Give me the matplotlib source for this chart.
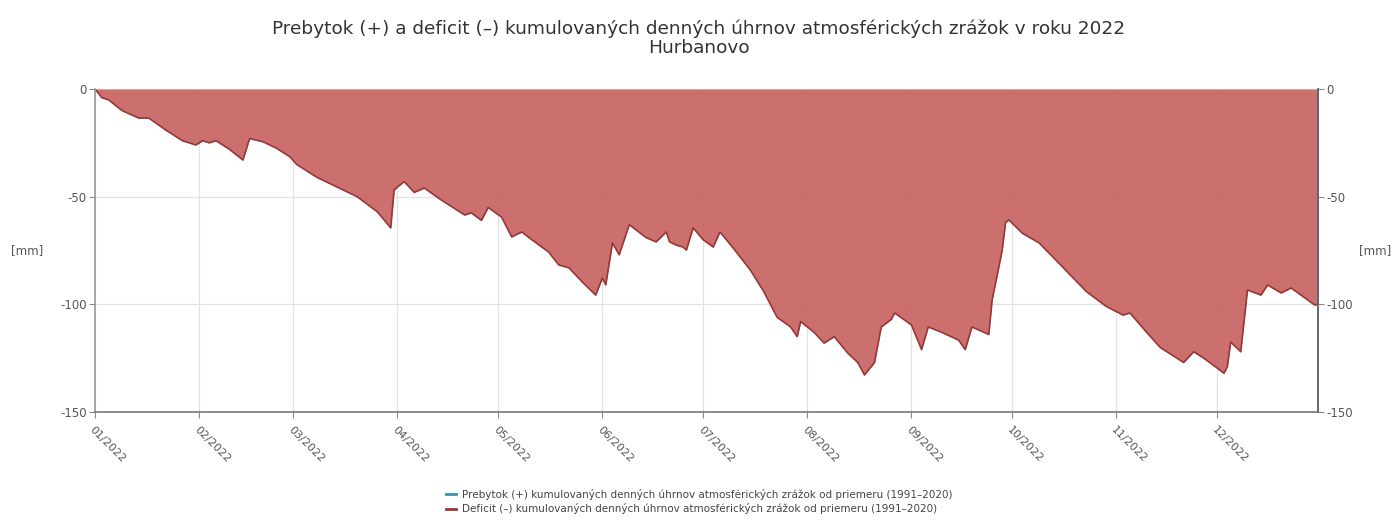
import numpy as np
import pandas as pd
import matplotlib
matplotlib.use("Agg")
import matplotlib.pyplot as plt
import matplotlib.dates as mdates

# =========================
# Data
# =========================
day_of_year = [
    1, 3, 5, 9, 14, 17, 22, 27, 31, 33, 35, 37, 41, 45, 47, 51, 55, 59, 61,
    67, 73, 79, 85, 89, 90, 91, 93, 96, 99, 104, 111, 113, 116, 118, 122,
    125, 128, 131, 136, 139, 142, 146, 150, 152, 153, 155, 157, 160, 165,
    168, 171, 172, 174, 176, 177, 179, 182, 185, 187, 191, 196, 200, 204,
    208, 210, 211, 215, 218, 221, 225, 228, 230, 233, 235, 238, 239, 244,
    247, 249, 253, 258, 260, 262, 267, 268, 270, 271, 272, 273, 277, 282,
    289, 296, 302, 307, 309, 314, 318, 323, 325, 328, 331, 335, 337, 338,
    339, 342, 344, 348, 350, 354, 357, 364, 365,
]
cumulative_mm = [
    0, -4, -5, -10, -13.5, -13.5, -19, -24, -26, -24, -25, -24, -28, -33,
    -23, -24.5, -27.5, -31.5, -35, -41, -45.5, -50, -57, -64.5, -47, -45.5,
    -43, -48, -46, -51.5, -58.5, -57.5, -61, -55, -59.5, -68.7, -66.4, -70,
    -75.7, -81.7, -83, -89.6, -95.7, -87.8, -91, -71.5, -77, -63, -69, -71,
    -66.4, -71, -72.5, -73.4, -74.8, -64.5, -70, -73.4, -66.4, -74, -84,
    -94, -106, -110.5, -115, -108, -113, -118, -115, -122.6, -127, -132.8,
    -127, -110.5, -107, -104, -109.6, -121, -110.5, -113, -116.6, -121,
    -110.5, -114, -98, -82.7, -74.8, -62, -60.8, -67, -71.5, -82.7, -94,
    -101, -105, -104, -113, -120, -125, -127, -122, -125, -129.6, -132,
    -129, -117.5, -122, -93.3, -95.7, -91, -94.7, -92.4, -100.3, -100,
]

month_ticks = [f"2022-{m:02d}-01" for m in range(1, 13)]
y_ticks = [0, -50, -100, -150]

title = ("Prebytok (+) a deficit (–) kumulovaných denných úhrnov "
         "atmosférických zrážok v roku 2022\nHurbanovo")
label_surplus = ("Prebytok (+) kumulovaných denných úhrnov atmosférických "
                 "zrážok od priemeru (1991–2020)")
label_deficit = ("Deficit (–) kumulovaných denných úhrnov atmosférických "
                 "zrážok od priemeru (1991–2020)")

# =========================
# Prepare series
# =========================
dates = pd.Timestamp("2022-01-01") + pd.to_timedelta(np.array(day_of_year) - 1, unit="D")
values = np.array(cumulative_mm, dtype=float)
surplus = np.maximum(values, 0)
deficit = np.minimum(values, 0)

# =========================
# Plot
# =========================
fig = plt.figure(figsize=(13.98, 5.23), dpi=100)
ax = fig.add_axes([0.068, 0.2122, 0.8748, 0.6176])

fill_red = "#c35656"
line_red = "#9c3535"
blue = "#3d8fb3"
grid_c = "#e2e2e2"
txt_c = "#555555"

ax.fill_between(dates, 0, surplus, color=blue, alpha=0.85, lw=0)
ax.fill_between(dates, 0, deficit, color=fill_red, alpha=0.85, lw=0)
ax.plot(dates, deficit, color=line_red, lw=1.2)

ax.set_xlim(pd.Timestamp("2022-01-01"), pd.Timestamp("2022-12-31"))
ax.set_ylim(-150, 0)

ax.set_xticks(pd.to_datetime(month_ticks))
ax.xaxis.set_major_formatter(mdates.DateFormatter("%m/%Y"))
ax.set_yticks(y_ticks)
ax.set_yticklabels([str(v) for v in y_ticks])

for lbl in ax.get_xticklabels():
    lbl.set_rotation(-45)
    lbl.set_ha("left")
    lbl.set_va("top")
    lbl.set_rotation_mode("anchor")

ax.tick_params(axis="x", colors="#888888", labelcolor=txt_c, labelsize=8,
               length=4, direction="out", pad=5)
ax.tick_params(axis="y", colors="#888888", labelcolor=txt_c, labelsize=8.5,
               length=4, direction="out", pad=2)

ax.grid(True, color=grid_c, lw=0.9)
ax.set_axisbelow(True)

ax.spines["top"].set_visible(False)
ax.spines["left"].set_color("#9a9a9a")
ax.spines["bottom"].set_color("#777777")
ax.spines["right"].set_color("#666666")
for side in ["left", "bottom", "right"]:
    ax.spines[side].set_linewidth(1.2)

ax.set_ylabel("[mm]", rotation=0, color=txt_c, fontsize=8.5, labelpad=24, va="center")

# right axis duplicate
ax2 = ax.twinx()
ax2.set_ylim(ax.get_ylim())
ax2.set_yticks(y_ticks)
ax2.set_yticklabels([str(v) for v in y_ticks])
ax2.tick_params(axis="y", colors="#888888", labelcolor=txt_c, labelsize=8.5,
                length=4, direction="out", pad=2)
for side in ["top", "left", "bottom"]:
    ax2.spines[side].set_visible(False)
ax2.spines["right"].set_color("#666666")
ax2.spines["right"].set_linewidth(1.2)
ax2.set_ylabel("[mm]", rotation=0, color=txt_c, fontsize=8.5, labelpad=16, va="center")

fig.text(0.5, 0.927, title, ha="center", va="center", fontsize=13.3,
         color="#333333", linespacing=1.05)

handles = [
    plt.Line2D([], [], color=blue, lw=2),
    plt.Line2D([], [], color=line_red, lw=2),
]
fig.legend(handles, [label_surplus, label_deficit], loc="center",
           bbox_to_anchor=(0.5, 0.041), frameon=False, fontsize=7.5,
           labelcolor="#444444", handlelength=1.0, handletextpad=0.5,
           labelspacing=0.35)

fig.savefig("out.png", dpi=100, facecolor="white")
